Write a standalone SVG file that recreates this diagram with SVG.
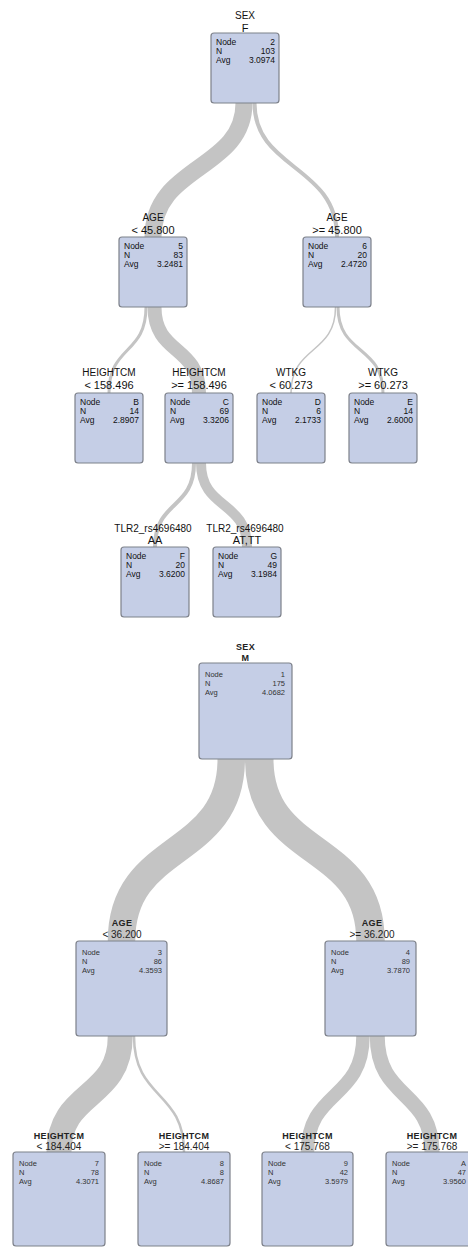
<svg xmlns="http://www.w3.org/2000/svg" width="468" height="1248" viewBox="0 0 468 1248">
<style>
.box{fill:#c5cee6;stroke:#7d818a;stroke-width:1.2}
.band{fill:none;stroke:#c4c4c4;stroke-linecap:butt}
.lv{font-family:"Liberation Sans",Arial,sans-serif;font-size:10px;fill:#111;text-anchor:middle}
.lc{font-family:"Liberation Sans",Arial,sans-serif;font-size:11px;fill:#111;text-anchor:middle}
.bv{font-family:"Liberation Sans",Arial,sans-serif;font-size:9px;font-weight:bold;fill:#222;text-anchor:middle;letter-spacing:0.3px}
.bc{font-family:"Liberation Sans",Arial,sans-serif;font-size:10px;fill:#222;text-anchor:middle}
.t{font-family:"Liberation Sans",Arial,sans-serif;font-size:8.5px;fill:#111}
.s{font-family:"Liberation Sans",Arial,sans-serif;font-size:7.5px;fill:#333}
.r{text-anchor:end}
</style>
<rect width="468" height="1248" fill="#ffffff"/>
<g id="connectors">
<path class="band" stroke-width="17" d="M244,103 C244,170 153,165 153,237"/>
<path class="band" stroke-width="4" d="M254.5,103 C254.5,170 337,165 337,237"/>
<path class="band" stroke-width="3" d="M146,307 C146,355 109,345 109,393"/>
<path class="band" stroke-width="14" d="M154.5,307 C154.5,355 199,345 199,393"/>
<path class="band" stroke-width="1.5" d="M335.5,307 C335.5,355 291,345 291,393"/>
<path class="band" stroke-width="3" d="M338,307 C338,355 383,345 383,393"/>
<path class="band" stroke-width="4" d="M194,463 C194,510 155,500 155,547"/>
<path class="band" stroke-width="10" d="M201,463 C201,510 247,500 247,547"/>
<path class="band" stroke-width="27.5" d="M231.25,759 C231.25,860 121.5,840 121.5,941"/>
<path class="band" stroke-width="28.5" d="M259.25,759 C259.25,860 370.5,840 370.5,941"/>
<path class="band" stroke-width="25" d="M120.25,1036 C120.25,1100 59,1090 59,1152"/>
<path class="band" stroke-width="2.5" d="M134,1036 C134,1100 184,1090 184,1152"/>
<path class="band" stroke-width="13.5" d="M363,1036 C363,1100 307.5,1090 307.5,1152"/>
<path class="band" stroke-width="15" d="M377.25,1036 C377.25,1100 432,1090 432,1152"/>
</g>
<g id="node2">
<text class="lv" x="245" y="19">SEX</text><text class="lc" x="245" y="31.5">F</text>
<rect class="box" x="211" y="33" width="68" height="70" rx="3"/>
<text class="t" x="216" y="45">Node</text><text class="t r" x="275" y="45">2</text>
<text class="t" x="216" y="54">N</text><text class="t r" x="275" y="54">103</text>
<text class="t" x="216" y="63">Avg</text><text class="t r" x="275" y="63">3.0974</text>
</g>
<g id="node5">
<text class="lv" x="153" y="221">AGE</text><text class="lc" x="153" y="234">&lt; 45.800</text>
<rect class="box" x="119" y="237" width="68" height="70" rx="3"/>
<text class="t" x="124" y="249">Node</text><text class="t r" x="183" y="249">5</text>
<text class="t" x="124" y="258">N</text><text class="t r" x="183" y="258">83</text>
<text class="t" x="124" y="267">Avg</text><text class="t r" x="183" y="267">3.2481</text>
</g>
<g id="node6">
<text class="lv" x="337" y="221">AGE</text><text class="lc" x="337" y="234">&gt;= 45.800</text>
<rect class="box" x="303" y="237" width="68" height="70" rx="3"/>
<text class="t" x="308" y="249">Node</text><text class="t r" x="367" y="249">6</text>
<text class="t" x="308" y="258">N</text><text class="t r" x="367" y="258">20</text>
<text class="t" x="308" y="267">Avg</text><text class="t r" x="367" y="267">2.4720</text>
</g>
<g id="nodeB">
<text class="lv" x="109" y="376">HEIGHTCM</text><text class="lc" x="109" y="389">&lt; 158.496</text>
<rect class="box" x="75" y="393" width="68" height="70" rx="3"/>
<text class="t" x="80" y="405">Node</text><text class="t r" x="139" y="405">B</text>
<text class="t" x="80" y="414">N</text><text class="t r" x="139" y="414">14</text>
<text class="t" x="80" y="423">Avg</text><text class="t r" x="139" y="423">2.8907</text>
</g>
<g id="nodeC">
<text class="lv" x="199" y="376">HEIGHTCM</text><text class="lc" x="199" y="389">&gt;= 158.496</text>
<rect class="box" x="165" y="393" width="68" height="70" rx="3"/>
<text class="t" x="170" y="405">Node</text><text class="t r" x="229" y="405">C</text>
<text class="t" x="170" y="414">N</text><text class="t r" x="229" y="414">69</text>
<text class="t" x="170" y="423">Avg</text><text class="t r" x="229" y="423">3.3206</text>
</g>
<g id="nodeD">
<text class="lv" x="291" y="376">WTKG</text><text class="lc" x="291" y="389">&lt; 60.273</text>
<rect class="box" x="257" y="393" width="68" height="70" rx="3"/>
<text class="t" x="262" y="405">Node</text><text class="t r" x="321" y="405">D</text>
<text class="t" x="262" y="414">N</text><text class="t r" x="321" y="414">6</text>
<text class="t" x="262" y="423">Avg</text><text class="t r" x="321" y="423">2.1733</text>
</g>
<g id="nodeE">
<text class="lv" x="383" y="376">WTKG</text><text class="lc" x="383" y="389">&gt;= 60.273</text>
<rect class="box" x="349" y="393" width="68" height="70" rx="3"/>
<text class="t" x="354" y="405">Node</text><text class="t r" x="413" y="405">E</text>
<text class="t" x="354" y="414">N</text><text class="t r" x="413" y="414">14</text>
<text class="t" x="354" y="423">Avg</text><text class="t r" x="413" y="423">2.6000</text>
</g>
<g id="nodeF">
<text class="lv" x="153" y="532">TLR2_rs4696480</text><text class="lc" x="155" y="544">AA</text>
<rect class="box" x="121" y="547" width="68" height="70" rx="3"/>
<text class="t" x="126" y="559">Node</text><text class="t r" x="185" y="559">F</text>
<text class="t" x="126" y="568">N</text><text class="t r" x="185" y="568">20</text>
<text class="t" x="126" y="577">Avg</text><text class="t r" x="185" y="577">3.6200</text>
</g>
<g id="nodeG">
<text class="lv" x="245" y="532">TLR2_rs4696480</text><text class="lc" x="247" y="544">AT,TT</text>
<rect class="box" x="213" y="547" width="68" height="70" rx="3"/>
<text class="t" x="218" y="559">Node</text><text class="t r" x="277" y="559">G</text>
<text class="t" x="218" y="568">N</text><text class="t r" x="277" y="568">49</text>
<text class="t" x="218" y="577">Avg</text><text class="t r" x="277" y="577">3.1984</text>
</g>
<g id="node1">
<text class="bv" x="245.5" y="650">SEX</text><text class="bv" x="245.5" y="660.5">M</text>
<rect class="box" x="199" y="663" width="93" height="96" rx="3"/>
<text class="s" x="205" y="677">Node</text><text class="s r" x="285" y="677">1</text>
<text class="s" x="205" y="686">N</text><text class="s r" x="285" y="686">175</text>
<text class="s" x="205" y="695">Avg</text><text class="s r" x="285" y="695">4.0682</text>
</g>
<g id="node3">
<text class="bv" x="122" y="926">AGE</text><text class="bc" x="122" y="938">&lt; 36.200</text>
<rect class="box" x="76" y="941" width="91" height="95" rx="3"/>
<text class="s" x="82" y="955">Node</text><text class="s r" x="162" y="955">3</text>
<text class="s" x="82" y="964">N</text><text class="s r" x="162" y="964">86</text>
<text class="s" x="82" y="973">Avg</text><text class="s r" x="162" y="973">4.3593</text>
</g>
<g id="node4">
<text class="bv" x="372" y="926">AGE</text><text class="bc" x="372" y="938">&gt;= 36.200</text>
<rect class="box" x="325" y="941" width="91" height="95" rx="3"/>
<text class="s" x="331" y="955">Node</text><text class="s r" x="410" y="955">4</text>
<text class="s" x="331" y="964">N</text><text class="s r" x="410" y="964">89</text>
<text class="s" x="331" y="973">Avg</text><text class="s r" x="410" y="973">3.7870</text>
</g>
<g id="node7">
<text class="bv" x="59" y="1138.5">HEIGHTCM</text><text class="bc" x="59" y="1150">&lt; 184.404</text>
<rect class="box" x="13" y="1152" width="92" height="94" rx="3"/>
<text class="s" x="19" y="1166">Node</text><text class="s r" x="99" y="1166">7</text>
<text class="s" x="19" y="1175">N</text><text class="s r" x="99" y="1175">78</text>
<text class="s" x="19" y="1184">Avg</text><text class="s r" x="99" y="1184">4.3071</text>
</g>
<g id="node8">
<text class="bv" x="184" y="1138.5">HEIGHTCM</text><text class="bc" x="184" y="1150">&gt;= 184.404</text>
<rect class="box" x="138" y="1152" width="92" height="94" rx="3"/>
<text class="s" x="144" y="1166">Node</text><text class="s r" x="224" y="1166">8</text>
<text class="s" x="144" y="1175">N</text><text class="s r" x="224" y="1175">8</text>
<text class="s" x="144" y="1184">Avg</text><text class="s r" x="224" y="1184">4.8687</text>
</g>
<g id="node9">
<text class="bv" x="307.5" y="1138.5">HEIGHTCM</text><text class="bc" x="307.5" y="1150">&lt; 175.768</text>
<rect class="box" x="262" y="1152" width="91" height="94" rx="3"/>
<text class="s" x="268" y="1166">Node</text><text class="s r" x="348" y="1166">9</text>
<text class="s" x="268" y="1175">N</text><text class="s r" x="348" y="1175">42</text>
<text class="s" x="268" y="1184">Avg</text><text class="s r" x="348" y="1184">3.5979</text>
</g>
<g id="node10">
<text class="bv" x="432" y="1138.5">HEIGHTCM</text><text class="bc" x="432" y="1150">&gt;= 175.768</text>
<rect class="box" x="386" y="1152" width="92" height="94" rx="3"/>
<text class="s" x="392" y="1166">Node</text><text class="s r" x="466" y="1166">A</text>
<text class="s" x="392" y="1175">N</text><text class="s r" x="466" y="1175">47</text>
<text class="s" x="392" y="1184">Avg</text><text class="s r" x="466" y="1184">3.9560</text>
</g>
</svg>
